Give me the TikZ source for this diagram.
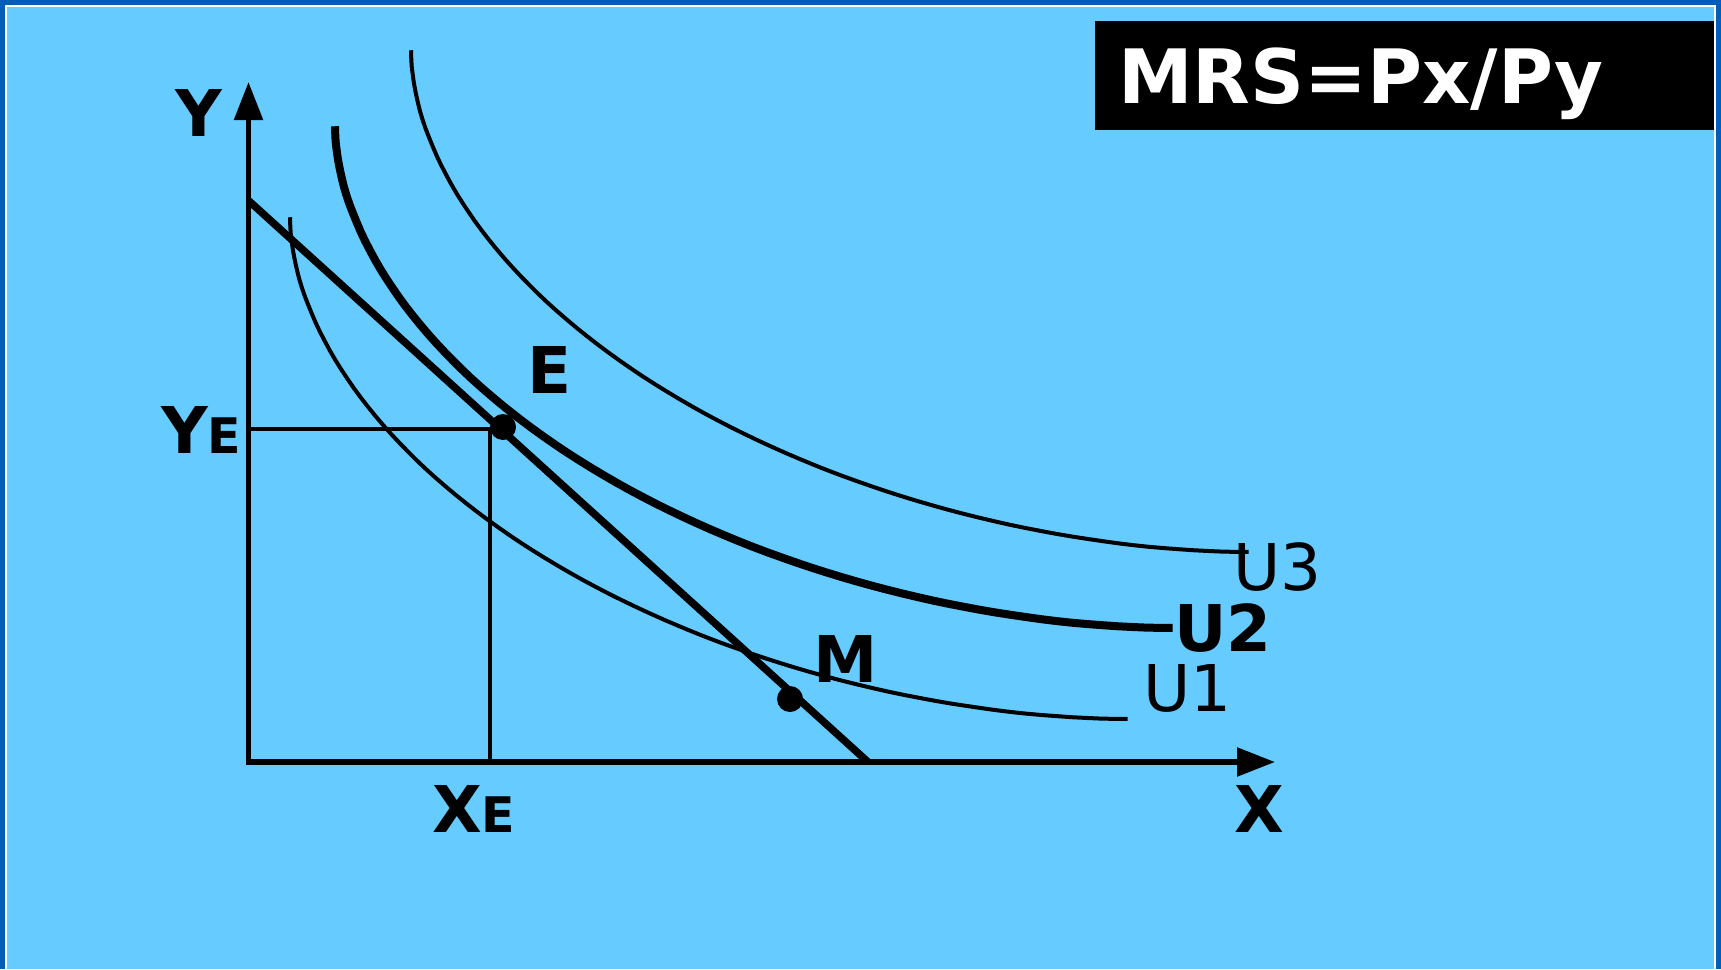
\documentclass[tikz,border=0pt]{standalone}
\usepackage{fontspec}
\setmainfont{DejaVu Sans}
\usetikzlibrary{arrows.meta}
\definecolor{frameB}{RGB}{0,94,186}
\definecolor{paneB}{RGB}{102,204,255}

\begin{document}
\begin{tikzpicture}[x=1pt,y=-1pt,>={Triangle[length=38pt,width=28pt]},
  lbl/.style={anchor=base west,inner sep=0pt,font=\fontsize{64.5}{70}\selectfont\bfseries},
  lblr/.style={anchor=base west,inner sep=0pt,font=\fontsize{64.5}{70}\selectfont},
  dot/.style={circle,fill,inner sep=0pt,minimum size=26pt}]
\useasboundingbox (0,0) rectangle (1721,969);
\fill[frameB] (0,0) rectangle (1721,969);
\fill[white] (5,5) rectangle (1716,969);
\fill[paneB] (7,7) rectangle (1714,969);
\fill[black] (1095,21) rectangle (1714,130);
\node[lbl,white,font=\fontsize{75}{80}\selectfont\bfseries] (mrs) at (1118,103) {MRS=Px/Py};
\coordinate (O) at (248.5,762);
\coordinate (ytop) at (248.5,82);
\coordinate (xtop) at (1275,762);
\draw[line width=5.5pt,->] (248.5,764.5) -- (ytop);
\draw[line width=5.5pt,->] (246,762) -- (xtop);
\foreach \sx/\sy/\w in {411/50/4, 335/126/8, 290/217/4}
  \draw[line width=\w pt] plot[domain=0.05:89.95,samples=80,variable=\t]
    ({\sx+838-838*cos(\t)^1.081},{\sy+502*sin(\t)^1.081});
\draw[line width=7.5pt] (249,201) -- (868,762);
\coordinate (yE) at (248.5,429);
\coordinate (cE) at (490,429);
\coordinate (xE) at (490,762);
\draw[line width=4pt] (yE) -- (cE) -- (xE);
\node[dot] (E) at (503,427) {};
\node[dot] (M) at (790,699) {};
\node[lbl] (lE) at (527,393) {E};
\node[lbl] (lM) at (813,682) {M};
\node[lbl] (lY) at (175,136) {Y};
\node[lbl] (lX) at (1234,832) {X};
\node[lbl] (lYE) at (161,453) {Y{\fontsize{49}{50}\selectfont E}};
\node[lbl] (lXE) at (432,832) {X{\fontsize{49}{50}\selectfont E}};
\node[lblr] (lU3) at (1233,590) {U3};
\node[lbl] (lU2) at (1174,651) {U2};
\node[lblr] (lU1) at (1143,711) {U1};
\end{tikzpicture}
\end{document}
